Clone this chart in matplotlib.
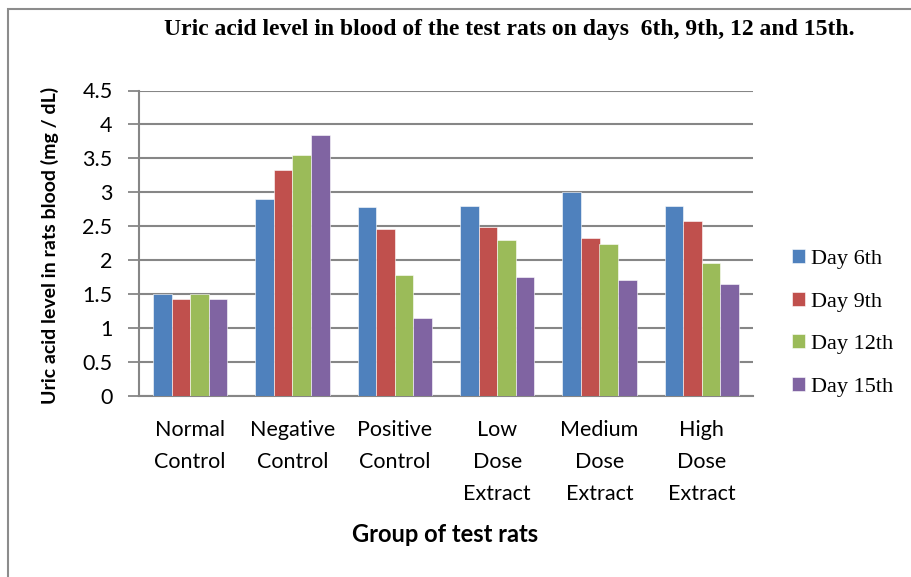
import numpy as np
import matplotlib.pyplot as plt
from matplotlib.patches import Rectangle

groups = ['Normal\nControl', 'Negative\nControl', 'Positive\nControl',
          'Low\nDose\nExtract', 'Medium\nDose\nExtract', 'High\nDose\nExtract']
series = ['Day 6th', 'Day 9th', 'Day 12th', 'Day 15th']
day6 = [1.50, 2.90, 2.78, 2.80, 3.00, 2.80]
day9 = [1.43, 3.33, 2.45, 2.48, 2.32, 2.58]
day12 = [1.50, 3.55, 1.78, 2.30, 2.23, 1.95]
day15 = [1.43, 3.85, 1.14, 1.75, 1.70, 1.64]
colors = ['#4F81BD', '#C0504D', '#9BBB59', '#8064A2']

W, H = 912, 577
fig = plt.figure(figsize=(W / 100, H / 100), dpi=100)
ax = fig.add_axes([139 / W, 1 - 395.5 / H, (753 - 139) / W, (395.5 - 90.5) / H])

# outer frame of the chart
fig.patches.append(Rectangle((8 / W, -0.01), 1.0, 1 - 9 / H + 0.01, transform=fig.transFigure,
                             fill=False, edgecolor='#8c8c8c', linewidth=1.5))

x = np.arange(len(groups))
bw = 0.181
for i, (vals, name) in enumerate(zip([day6, day9, day12, day15], series)):
    ax.bar(x + (i - 1.5) * bw, vals, bw, color=colors[i], label=name,
           edgecolor='white', linewidth=0.4, zorder=3)

ax.set_xlim(-0.5, len(groups) - 0.5)
ax.set_ylim(0, 4.5)
ax.set_yticks(np.arange(0, 4.51, 0.5))
ax.set_yticklabels(['0', '0.5', '1', '1.5', '2', '2.5', '3', '3.5', '4', '4.5'])
ax.yaxis.grid(True, color='#868686', linewidth=1.5, zorder=0)
ax.set_xticks(x)
ax.set_xticklabels(groups, family='Lato', fontsize=15.5, linespacing=1.75, va='top')
ax.tick_params(axis='x', length=0, pad=18)
ax.tick_params(axis='y', length=8, width=1.3, color='#868686', labelsize=15.5, pad=11)
for lab in ax.get_yticklabels():
    lab.set_family('Lato')
for s in ['top', 'right']:
    ax.spines[s].set_visible(False)
for s in ['left', 'bottom']:
    ax.spines[s].set_color('#868686')
    ax.spines[s].set_linewidth(1.5)

fig.text(50 / W, 1 - 245 / H, 'Uric acid level in rats blood (mg / dL)', rotation=90,
         ha='center', va='center', family='Lato', fontweight='bold', fontsize=14)
fig.text(445 / W, 1 - 535 / H, 'Group of test rats', ha='center', va='center',
         family='Lato', fontweight='bold', fontsize=17)
fig.text(509 / W, 1 - 30 / H, 'Uric acid level in blood of the test rats on days  6th, 9th, 12 and 15th.',
         ha='center', va='center', family='Liberation Serif', fontweight='bold', fontsize=17)

leg = ax.legend(loc='center left', bbox_to_anchor=(772 / W, 1 - 323 / H),
                bbox_transform=fig.transFigure, frameon=False,
                prop={'family': 'Liberation Serif', 'size': 16},
                handlelength=0.6, handleheight=0.6, handletextpad=0.25, labelspacing=1.02)

fig.savefig('out.png', dpi=100)
